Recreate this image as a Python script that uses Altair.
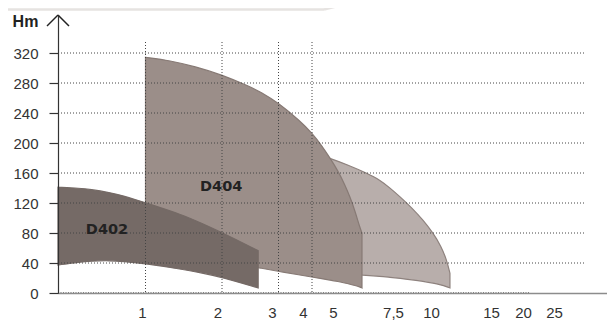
import altair as alt
import pandas as pd

# ---- data (flow Q, head H in m) ----
d402_q = [0, 0.251, 0.366, 0.594, 0.743, 1.0, 1.49, 1.71, 2.02, 2.64]
d402_top = [141, 139.7, 138.3, 133.8, 129.8, 120.4, 104, 94, 80, 56.4]
d402_bot = [37.3, 41.3, 42.5, 43.3, 42, 39.3, 31.3, 27.3, 20.7, 6.7]

d404_q = [1.0, 1.32, 1.647, 2.0, 2.496, 2.673, 3.015, 3.642, 4.0, 4.476, 4.857,
          5.208, 5.5, 5.708, 5.917, 6.125, 6.208]
d404_top = [314.3, 310, 302, 291, 275, 268.5, 253, 229.3, 213.3, 196, 180,
            162.7, 144, 128, 109.3, 86.7, 80]
d404_bot = [50.7, 48, 45.3, 41.3, 36, 33.3, 28.7, 24, 21.3, 19, 17.3,
            15.3, 13.3, 11.7, 10, 8, 6.7]

ext_q = [3.642, 4.143, 4.857, 5.625, 6.417, 6.958, 7.375, 7.961, 8.75, 9.474,
         10.19, 10.83, 11.31, 11.58]
ext_top = [190.7, 186, 179.6, 170.7, 159.6, 150.7, 140, 128.4, 113.3, 97.3,
           79.6, 62.7, 44, 26.3]
ext_bot = [28, 26.9, 26, 24.9, 23.6, 22.3, 20.9, 19.6, 17.6, 15.6,
           13.3, 10.7, 8.3, 6.7]

x_ticks = [1, 2, 3, 4, 5, 7.5, 10, 15, 20, 25]
grid_x = [1, 2, 3, 4]
y_ticks = [0, 40, 80, 120, 160, 200, 240, 280, 320]
grid_y = [40, 80, 120, 160, 200, 240, 280, 320]

label_names = ["D402", "D404"]
label_q = [0.56, 1.99]
label_h = [84, 141]

FONT = "Liberation Sans"

xscale = alt.Scale(
    domain=[0, 1, 2, 3, 4, 5, 7.5, 10, 15, 20, 25, 30],
    range=[0, 87.5, 164, 220.5, 254, 275, 335, 373, 433, 465, 496, 549],
    nice=False, zero=False,
)
yscale = alt.Scale(domain=[0, 370.67], nice=False, zero=False)

xaxis = alt.Axis(
    values=x_ticks, title=None, grid=False, ticks=False, tickSize=0,
    labelPadding=12, labelFontSize=15, labelColor="#333", labelFont=FONT,
    labelExpr="datum.value == 7.5 ? '7,5' : datum.label",
    labelOffset={"expr": "datum.value == 1 ? -3.5 : datum.value == 2 ? -4.5 : datum.value == 3 ? -6.5 : datum.value == 4 ? -9 : 0"},
    domainColor="#8c8c8c", domainWidth=1.5, labelOverlap=False, labelFlush=False,
    zindex=1,
)
yaxis = alt.Axis(
    values=y_ticks, title="Hm", grid=False, tickSize=9, tickColor="#333",
    tickWidth=1.2, domainColor="#333", domainWidth=1.2,
    labelPadding=11, labelFontSize=15, labelColor="#333", labelFont=FONT,
    titleAngle=0, titleX=-33, titleY=6, titleAlign="center", titleBaseline="middle",
    titleFont=FONT, titleFontSize=16, titleFontWeight="bold", titleColor="#222",
    zindex=1,
)


def X(field):
    return alt.X(field, type="quantitative", scale=xscale, axis=xaxis)


def Y(field):
    return alt.Y(field, type="quantitative", scale=yscale, axis=yaxis)


def band(q, top, bot, fill, stroke):
    df = pd.DataFrame({"q": q, "top": top, "bot": bot})
    return alt.Chart(df).mark_area(
        fill=fill, stroke=stroke, strokeWidth=1.2, opacity=1, interpolate="basis"
    ).encode(x=X("q"), y=Y("top"), y2="bot")


ext = band(ext_q, ext_top, ext_bot, "#b8aeab", "#8e827e")
d404 = band(d404_q, d404_top, d404_bot, "#9b8e89", "#877a75")
d402 = band(d402_q, d402_top, d402_bot, "#756a66", "#756a66")

hgrid = alt.Chart(pd.DataFrame({"h": grid_y})).mark_rule(
    color="#444", strokeDash=[1, 2], strokeWidth=1
).encode(y=Y("h"), x=alt.value(0), x2=alt.value(528))

vgrid = alt.Chart(pd.DataFrame({"q": grid_x})).mark_rule(
    color="#444", strokeDash=[1, 2], strokeWidth=1
).encode(x=X("q"), y=alt.value(27), y2=alt.value(278))

zero_line = alt.Chart(pd.DataFrame({"h": [0]})).mark_rule(
    color="#555", strokeDash=[1, 1.5], strokeWidth=1.5
).encode(y=Y("h"), x=alt.value(0), x2=alt.value(472))

labels = alt.Chart(pd.DataFrame({"name": label_names, "q": label_q, "h": label_h})).mark_text(
    font="DejaVu Sans", fontSize=14.5, fontWeight="bold", color="#222",
    align="center", baseline="middle"
).encode(x=X("q"), y=Y("h"), text="name:N")

arrow_l = alt.Chart(pd.DataFrame({"a": [0]})).mark_rule(color="#222", strokeWidth=1.5).encode(
    x=alt.value(-11), y=alt.value(11), x2=alt.value(0), y2=alt.value(0))
arrow_r = alt.Chart(pd.DataFrame({"a": [0]})).mark_rule(color="#222", strokeWidth=1.5).encode(
    x=alt.value(0), y=alt.value(0), x2=alt.value(11), y2=alt.value(11))

deco = alt.Chart(pd.DataFrame({"a": [0]})).mark_rule(color="#e6e3e1", strokeWidth=2.5).encode(
    x=alt.value(-50), y=alt.value(-5.5), x2=alt.value(266), y2=alt.value(-5.5))
deco2 = alt.Chart(pd.DataFrame({"a": [0]})).mark_rule(color="#e6e3e1", strokeWidth=2.5).encode(
    x=alt.value(266), y=alt.value(-5.5), x2=alt.value(280), y2=alt.value(-9))

chart = alt.layer(
    ext, d404, d402, hgrid, vgrid, zero_line, labels, arrow_l, arrow_r, deco, deco2
).properties(
    width=549, height=278,
    autosize=alt.AutoSizeParams(type="none"),
    padding={"left": 50, "top": 7, "right": 0, "bottom": 28},
    background="white",
).configure_view(stroke=None)

chart.save("out.html", embed_options={"renderer": "svg", "actions": False})
